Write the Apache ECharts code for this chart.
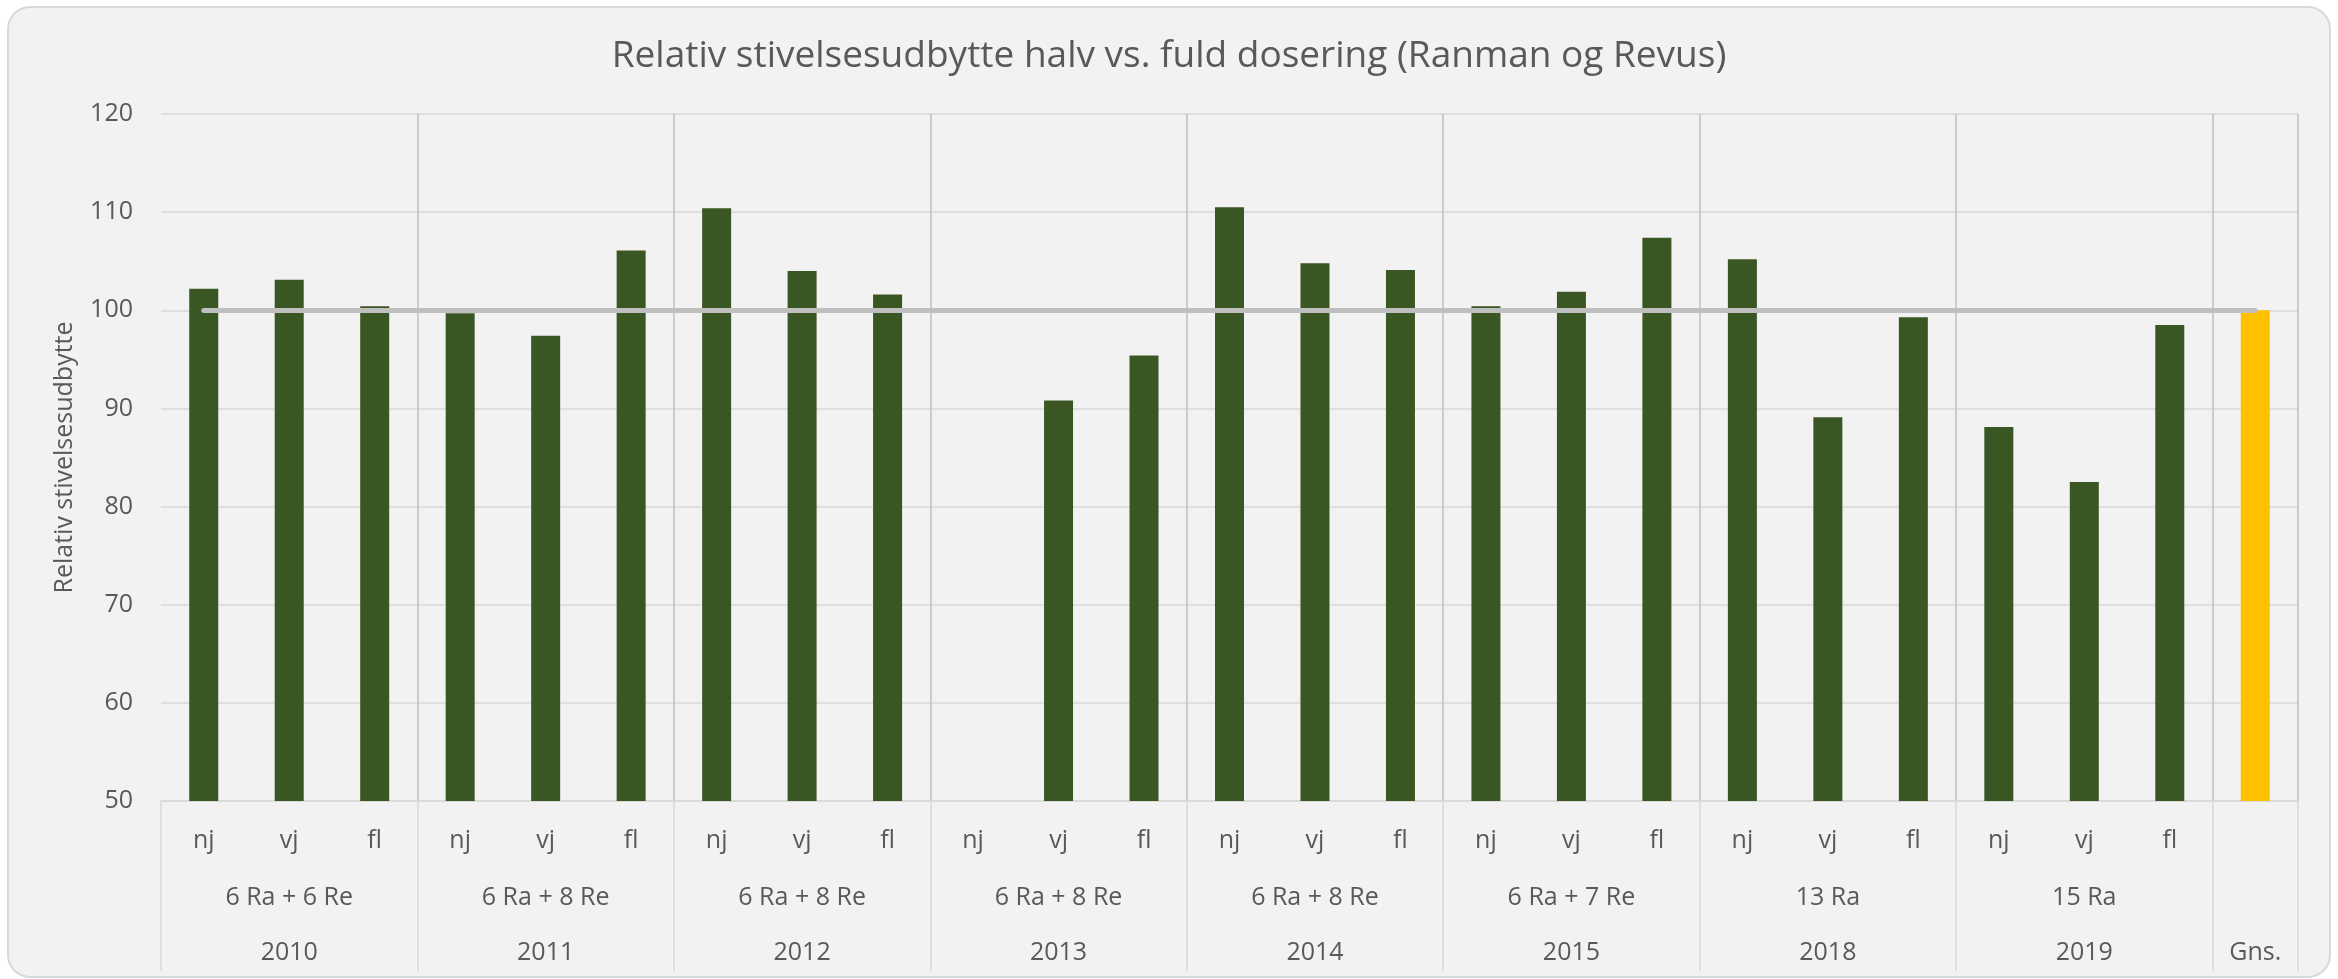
<!DOCTYPE html>
<html>
<head>
<meta charset="utf-8">
<script src="https://cdn.jsdelivr.net/npm/echarts@6/dist/echarts.min.js"></script>
<style>
  html, body { margin: 0; padding: 0; background: #ffffff; }
  #chart { width: 2338px; height: 979px; }
</style>
</head>
<body>
<div id="chart"></div>
<script>
// data
var years = ['2010', '2011', '2012', '2013', '2014', '2015', '2018', '2019'];
var treatments = ['6 Ra + 6 Re', '6 Ra + 8 Re', '6 Ra + 8 Re', '6 Ra + 8 Re', '6 Ra + 8 Re', '6 Ra + 7 Re', '13 Ra', '15 Ra'];
var timings = ['nj', 'vj', 'fl'];
var values = [
    [102.2, 103.1, 100.4],   // 2010
    [99.7, 97.4, 106.1],     // 2011
    [110.4, 104.0, 101.6],   // 2012
    [49.8, 90.8, 95.4],      // 2013
    [110.5, 104.8, 104.1],   // 2014
    [100.4, 101.9, 107.4],   // 2015
    [105.2, 89.1, 99.3],     // 2018
    [88.1, 82.5, 98.5]       // 2019
];
var avgLabel = 'Gns.';
var avgValue = 100;
var refValue = 100;
var yTicks = { min: 50, max: 120, step: 10 };

(function() {
    var myChart = echarts.init(document.getElementById('chart'));
    var green = '#3A5623';
    var gold = '#FFC000';
    var txt = '#595959';
    var font = '"Open Sans", "Noto Sans", sans-serif';

    // build the three label rows + bar data
    var row1 = [], row2 = [], row3 = [], bars = [];
    years.forEach(function(y, g) {
        timings.forEach(function(t, k) {
            row1.push(t);
            row2.push(k === 1 ? treatments[g] : '');
            row3.push(k === 1 ? y : '');
            bars.push({ value: values[g][k], itemStyle: { color: green } });
        });
    });
    row1.push(''); row2.push(''); row3.push(avgLabel);
    bars.push({ value: avgValue, itemStyle: { color: gold } });
    var n = row1.length;

    function labelAxis(data, margin, show) {
        return {
            type: 'category',
            position: 'bottom',
            data: data,
            boundaryGap: true,
            axisLine: { show: show, lineStyle: { color: '#D9D9D9', width: 1.5 } },
            axisTick: { show: false },
            splitLine: { show: false },
            axisLabel: {
                interval: 0, margin: margin, color: txt,
                fontFamily: font, fontSize: 25, lineHeight: 30
            }
        };
    }

    var option = {
        animation: false,
        graphic: [{
            type: 'rect', left: 7, top: 6, z: -10, silent: true,
            shape: { width: 2322, height: 970, r: 22 },
            style: { fill: '#F2F2F2', stroke: '#D9D9D9', lineWidth: 2 }
        }],
        title: {
            text: 'Relativ stivelsesudbytte halv vs. fuld dosering (Ranman og Revus)',
            left: 'center',
            top: 33,
            textStyle: { color: txt, fontFamily: font, fontWeight: 'normal', fontSize: 37 }
        },
        grid: { left: 161, right: 40, top: 114, bottom: 178 },
        xAxis: [
            labelAxis(row1, 25, true),
            labelAxis(row2, 82, false),
            labelAxis(row3, 137, false),
            {
                // group separators
                type: 'value',
                position: 'bottom',
                min: 0, max: n, interval: timings.length,
                axisLabel: { show: false },
                axisLine: { show: false },
                axisTick: { show: true, length: 170, lineStyle: { color: '#D9D9D9', width: 1.5 } },
                splitLine: { show: true, showMinLine: false, lineStyle: { color: '#BFBFBF', width: 1.5 } }
            }
        ],
        yAxis: {
            type: 'value',
            min: yTicks.min, max: yTicks.max, interval: yTicks.step,
            name: 'Relativ stivelsesudbytte',
            nameLocation: 'middle',
            nameGap: 84,
            nameTextStyle: { color: txt, fontFamily: font, fontSize: 25 },
            axisLine: { show: false },
            axisTick: { show: false },
            axisLabel: { color: txt, fontFamily: font, fontSize: 25, margin: 28 },
            splitLine: { lineStyle: { color: '#D9D9D9', width: 1.5 } }
        },
        series: [{
            type: 'bar',
            xAxisIndex: 0,
            barWidth: 29,
            data: bars,
            markLine: {
                silent: true,
                symbol: 'none',
                label: { show: false },
                lineStyle: { color: '#BFBFBF', width: 5, type: 'solid', cap: 'round' },
                data: [[{ coord: [0, refValue] }, { coord: [n - 1, refValue] }]]
            }
        }]
    };
    myChart.setOption(option);
})();
</script>
</body>
</html>
